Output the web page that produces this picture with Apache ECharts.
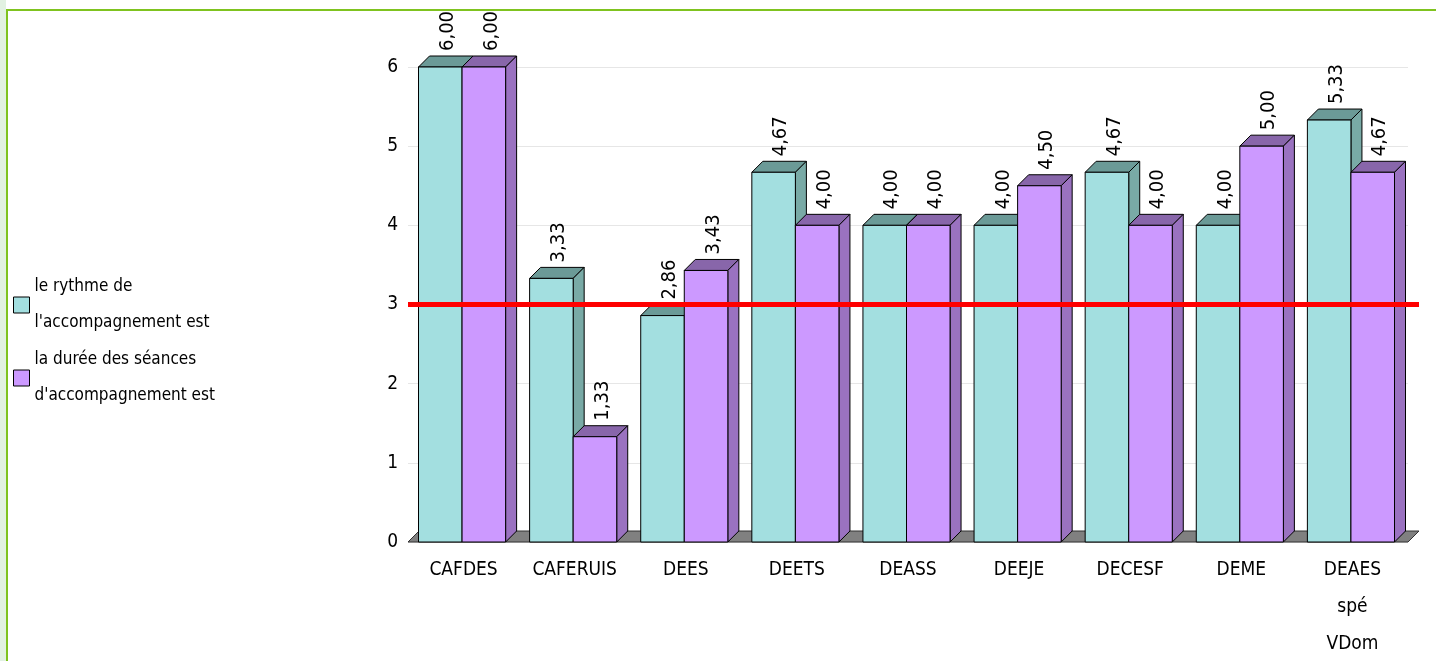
<!DOCTYPE html>
<html><head><meta charset="utf-8">
<script src="https://cdn.jsdelivr.net/npm/echarts@6/dist/echarts.min.js"></script>
<style>
html,body{margin:0;padding:0;width:1436px;height:661px;overflow:hidden;background:#fff;}
#strip{position:absolute;left:0;top:0;width:6px;height:661px;background:#e2f1e2;}
#frame{position:absolute;left:6px;top:9px;width:1460px;height:700px;border:2px solid #7fc31f;box-sizing:border-box;}
#chart{position:absolute;left:0;top:0;width:1436px;height:661px;}
</style></head>
<body>
<div id="strip"></div><div id="frame"></div><div id="chart"></div>
<script>
const categories = ['CAFDES','CAFERUIS','DEES','DEETS','DEASS','DEEJE','DECESF','DEME','DEAES\nspé\nVDom'];
const rythme = [6.00, 3.33, 2.86, 4.67, 4.00, 4.00, 4.67, 4.00, 5.33];
const duree  = [6.00, 1.33, 3.43, 4.00, 4.00, 4.50, 4.00, 5.00, 4.67];
const seriesNames = ["le rythme de\nl'accompagnement est", "la durée des séances\nd'accompagnement est"];
const refValue = 3;

const FONT = "'DejaVu Sans'";
const STRETCH = 'ultra-condensed';
const D = 11;
const palettes = [
  {front:'#a3dfe0', top:'#6b9a97', side:'#79aaa6'},
  {front:'#cc99ff', top:'#8866aa', side:'#9a72c0'}
];
function fmt(v){return v.toFixed(2).replace('.',',');}

function barRender(si){
  const c = palettes[si];
  return function(params, api){
    const xi = api.value(0), v = api.value(1);
    const base = api.coord([xi, 0]);
    const top = api.coord([xi, v]);
    const band = api.size([1,0])[0];
    const bw = band*0.392;
    const x0 = base[0] - bw + si*bw - 1.5;
    const yb = base[1], yt = top[1];
    const st = {stroke:'#000', lineWidth:1};
    return {type:'group', children:[
      {type:'polygon', shape:{points:[[x0,yt],[x0+D,yt-D],[x0+bw+D,yt-D],[x0+bw,yt]]}, style:Object.assign({fill:c.top},st)},
      {type:'polygon', shape:{points:[[x0+bw,yt],[x0+bw+D,yt-D],[x0+bw+D,yb-D],[x0+bw,yb]]}, style:Object.assign({fill:c.side},st)},
      {type:'rect', shape:{x:x0,y:yt,width:bw,height:yb-yt}, style:Object.assign({fill:c.front},st)},
      {type:'text', x:x0+bw/2+D/2+2, y:yt-D-5, rotation:Math.PI/2,
        style:{text:fmt(v), font:STRETCH+' 20px '+FONT, fill:'#000', align:'left', verticalAlign:'middle'}}
    ]};
  };
}

function floorRender(params, api){
  const first = api.coord([0,0]);
  const last = api.coord([categories.length-1,0]);
  const band = api.size([1,0])[0];
  const L = first[0]-band/2, R = last[0]+band/2, y = first[1];
  return {type:'polygon', shape:{points:[[L,y],[L+D,y-D],[R+D,y-D],[R,y]]},
    style:{fill:'#808080', stroke:'#333', lineWidth:1}};
}
function refRender(params, api){
  const first = api.coord([0,api.value(0)]);
  const last = api.coord([categories.length-1,api.value(0)]);
  const band = api.size([1,0])[0];
  return {type:'line', shape:{x1:first[0]-band/2, y1:first[1], x2:last[0]+band/2+D, y2:first[1]},
    style:{stroke:'#ff0000', lineWidth:5}};
}

const chart = echarts.init(document.getElementById('chart'), null, {renderer:'canvas'});
chart.setOption({
  animation:false,
  backgroundColor:'transparent',
  textStyle:{fontFamily:FONT},
  grid:{left:408, right:28, top:67, bottom:119, containLabel:false, outerBoundsMode:'none'},
  legend:{
    orient:'vertical', left:13, top:269, padding:0, itemGap:1, itemWidth:16, itemHeight:16, icon:'rect',
    data:seriesNames,
    textStyle:{fontFamily:FONT, fontStyle:STRETCH, fontSize:17, lineHeight:36, color:'#000'},
    itemStyle:{borderColor:'#000', borderWidth:1}
  },
  xAxis:{type:'category', data:categories,
    axisLine:{show:false}, axisTick:{show:false},
    axisLabel:{fontFamily:FONT, fontStyle:STRETCH, fontSize:19, lineHeight:37, color:'#000', margin:10, interval:0}},
  yAxis:{type:'value', min:0, max:6, interval:1,
    axisLine:{show:false}, axisTick:{show:false},
    axisLabel:{fontFamily:FONT, fontStyle:STRETCH, fontSize:19, color:'#000', margin:10},
    splitLine:{lineStyle:{color:'#e6e6e6', width:1}}},
  series:[
    {type:'custom', name:'floor', renderItem:floorRender, data:[[0]], z:1, silent:true},
    {type:'custom', name:seriesNames[0], renderItem:barRender(0), itemStyle:{color:palettes[0].front},
      data:rythme.map((v,i)=>[i,v]), encode:{x:0,y:1}, z:2},
    {type:'custom', name:seriesNames[1], renderItem:barRender(1), itemStyle:{color:palettes[1].front},
      data:duree.map((v,i)=>[i,v]), encode:{x:0,y:1}, z:3},
    {type:'custom', name:'ref', renderItem:refRender, data:[[refValue]], encode:{y:0}, z:4, silent:true}
  ]
});
</script>
</body></html>
